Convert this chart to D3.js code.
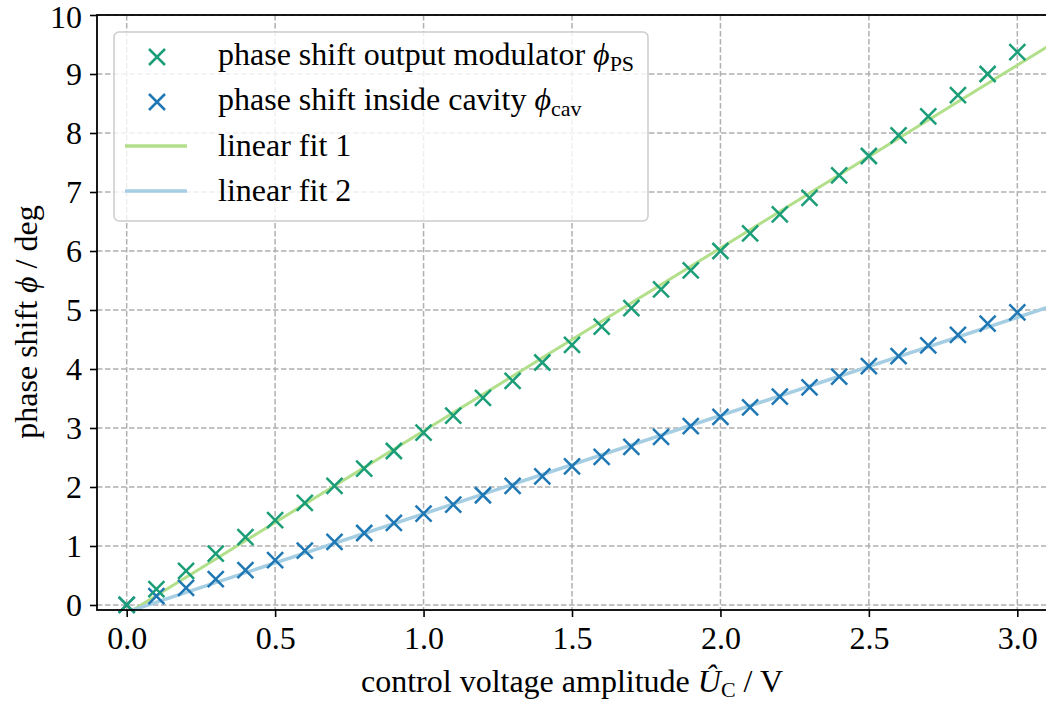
<!DOCTYPE html>
<html>
<head>
<meta charset="utf-8">
<script src="https://cdn.jsdelivr.net/npm/d3@7/dist/d3.min.js"></script>
<style>
  body { margin: 0; background: #fff; }
  svg text { font-family: "Liberation Serif", "DejaVu Serif", serif; }
</style>
</head>
<body>
<div id="chart"></div>
<script>
// control voltage amplitude / V
var voltages = [0.0, 0.1, 0.2, 0.3, 0.4, 0.5, 0.6, 0.7, 0.8, 0.9, 1.0,
  1.1, 1.2, 1.3, 1.4, 1.5, 1.6, 1.7, 1.8, 1.9, 2.0,
  2.1, 2.2, 2.3, 2.4, 2.5, 2.6, 2.7, 2.8, 2.9, 3.0];
// phase shift output modulator (deg)
var phiPS = [0.0, 0.27, 0.58, 0.87, 1.15, 1.44, 1.73, 2.02, 2.31, 2.61, 2.92,
  3.21, 3.51, 3.80, 4.11, 4.41, 4.72, 5.03, 5.35, 5.67, 6.0,
  6.30, 6.62, 6.90, 7.28, 7.61, 7.96, 8.28, 8.64, 9.0, 9.37];
// phase shift inside cavity (deg)
var phiCav = [0.0, 0.15, 0.29, 0.44, 0.59, 0.76, 0.92, 1.07, 1.22, 1.39, 1.55,
  1.70, 1.86, 2.02, 2.18, 2.35, 2.51, 2.68, 2.85, 3.03, 3.19,
  3.35, 3.53, 3.69, 3.87, 4.05, 4.22, 4.40, 4.58, 4.77, 4.96];
// linear fits: [slope, intercept]
var fit1 = [3.10, -0.15];
var fit2 = [1.665, -0.12];
var fitRange = [0.0, 3.1];

var xTicks = [0.0, 0.5, 1.0, 1.5, 2.0, 2.5, 3.0];
var yTicks = [0, 1, 2, 3, 4, 5, 6, 7, 8, 9, 10];

var width = 1046, height = 704;
var mLeft = 97, mRight = 1047, mTop = 15, mBottom = 610;
var fs = 32, fsSub = 22;

var svg = d3.select("#chart").append("svg")
  .attr("width", width)
  .attr("height", height);

var x = d3.scaleLinear().domain([-0.1, 3.1]).range([mLeft, mRight]);
var y = d3.scaleLinear().domain([-0.085, 10]).range([mBottom, mTop]);

svg.append("defs").append("clipPath").attr("id", "plotclip")
  .append("rect")
  .attr("x", mLeft).attr("y", mTop)
  .attr("width", mRight - mLeft).attr("height", mBottom - mTop);

// grid
var grid = svg.append("g").attr("stroke", "#b0b0b0").attr("stroke-width", 1.5)
  .attr("stroke-dasharray", "5.5,2.5");
grid.selectAll(".gx").data(xTicks).enter().append("line")
  .attr("x1", function(d) { return x(d); }).attr("x2", function(d) { return x(d); })
  .attr("y1", mTop).attr("y2", mBottom);
grid.selectAll(".gy").data(yTicks).enter().append("line")
  .attr("y1", function(d) { return y(d); }).attr("y2", function(d) { return y(d); })
  .attr("x1", mLeft).attr("x2", mRight);

// fit lines
var plot = svg.append("g").attr("clip-path", "url(#plotclip)");
var line = d3.line()
  .x(function(d) { return x(d[0]); })
  .y(function(d) { return y(d[1]); });

function fitPoints(f) {
  return fitRange.map(function(v) { return [v, f[0] * v + f[1]]; });
}

plot.append("path").datum(fitPoints(fit1))
  .attr("d", line).attr("fill", "none")
  .attr("stroke", "#b2df8a").attr("stroke-width", 3);
plot.append("path").datum(fitPoints(fit2))
  .attr("d", line).attr("fill", "none")
  .attr("stroke", "#a6cee3").attr("stroke-width", 3.5);

// x markers
var ms = 8;
function crossPath(cx, cy) {
  return "M" + (cx - ms) + "," + (cy - ms) + "L" + (cx + ms) + "," + (cy + ms) +
    "M" + (cx - ms) + "," + (cy + ms) + "L" + (cx + ms) + "," + (cy - ms);
}

function drawMarkers(vals, color) {
  svg.append("g").selectAll("path")
    .data(voltages.map(function(v, i) { return [v, vals[i]]; }))
    .enter().append("path")
    .attr("d", function(d) { return crossPath(x(d[0]), y(d[1])); })
    .attr("stroke", color).attr("stroke-width", 2.5).attr("fill", "none");
}
drawMarkers(phiCav, "#1f78b4");
drawMarkers(phiPS, "#1b9e77");

// axes
var xAxis = d3.axisBottom(x).tickValues(xTicks).tickSize(7).tickPadding(6)
  .tickFormat(d3.format(".1f"));
var yAxis = d3.axisLeft(y).tickValues(yTicks).tickSize(7).tickPadding(8)
  .tickFormat(d3.format("d"));

var gx = svg.append("g").attr("transform", "translate(0," + mBottom + ")").call(xAxis);
var gy = svg.append("g").attr("transform", "translate(" + mLeft + ",0)").call(yAxis);
[gx, gy].forEach(function(g) {
  g.select(".domain").remove();
  g.selectAll(".tick line").attr("stroke", "#000").attr("stroke-width", 1.6);
  g.selectAll(".tick text").attr("fill", "#000")
    .style("font-size", fs + "px").style("font-family", "'Liberation Serif', serif");
});
gx.selectAll(".tick text").attr("dy", "0.8em");
gy.selectAll(".tick text").filter(function(d) { return d === 10; }).attr("dy", "0.4em");

// spines
svg.append("rect")
  .attr("x", mLeft).attr("y", mTop)
  .attr("width", mRight - mLeft).attr("height", mBottom - mTop)
  .attr("fill", "none").attr("stroke", "#000").attr("stroke-width", 1.8);

// axis labels
var xl = svg.append("text")
  .attr("x", 572).attr("y", 692)
  .attr("text-anchor", "middle").style("font-size", fs + "px");
xl.append("tspan").text("control voltage amplitude ");
xl.append("tspan").style("font-style", "italic").text("Û");
xl.append("tspan").attr("dy", 5).style("font-size", fsSub + "px").text("C");
xl.append("tspan").attr("dy", -5).text(" / V");

var yl = svg.append("text")
  .attr("transform", "translate(37," + 322 + ") rotate(-90)")
  .attr("text-anchor", "middle").style("font-size", fs + "px");
yl.append("tspan").text("phase shift ");
yl.append("tspan").style("font-style", "italic").text("ϕ");
yl.append("tspan").text(" / deg");

// legend
var legend = svg.append("g");
legend.append("rect")
  .attr("x", 114).attr("y", 32).attr("width", 534).attr("height", 189)
  .attr("rx", 5).attr("ry", 5)
  .attr("fill", "#fff").attr("fill-opacity", 0.8)
  .attr("stroke", "#cccccc").attr("stroke-width", 1.5);

var legendItems = [
  { type: "marker", color: "#1b9e77", label: "phase shift output modulator ", sub: "PS" },
  { type: "marker", color: "#1f78b4", label: "phase shift inside cavity ", sub: "cav" },
  { type: "line", color: "#b2df8a", label: "linear fit 1" },
  { type: "line", color: "#a6cee3", label: "linear fit 2" }
];
var rowY = [55, 100, 146, 191];

legendItems.forEach(function(it, i) {
  var cy = rowY[i];
  if (it.type === "marker") {
    legend.append("path").attr("d", crossPath(157, cy + 2))
      .attr("stroke", it.color).attr("stroke-width", 2.5).attr("fill", "none");
  } else {
    legend.append("line").attr("x1", 125).attr("x2", 187)
      .attr("y1", cy).attr("y2", cy)
      .attr("stroke", it.color).attr("stroke-width", 3.5);
  }
  var t = legend.append("text").attr("x", 218).attr("y", cy + 10)
    .style("font-size", fs + "px");
  t.append("tspan").text(it.label);
  if (it.sub) {
    t.append("tspan").style("font-style", "italic").text("ϕ");
    t.append("tspan").attr("dy", 6).style("font-size", fsSub + "px").text(it.sub);
  }
});
</script>
</body>
</html>
